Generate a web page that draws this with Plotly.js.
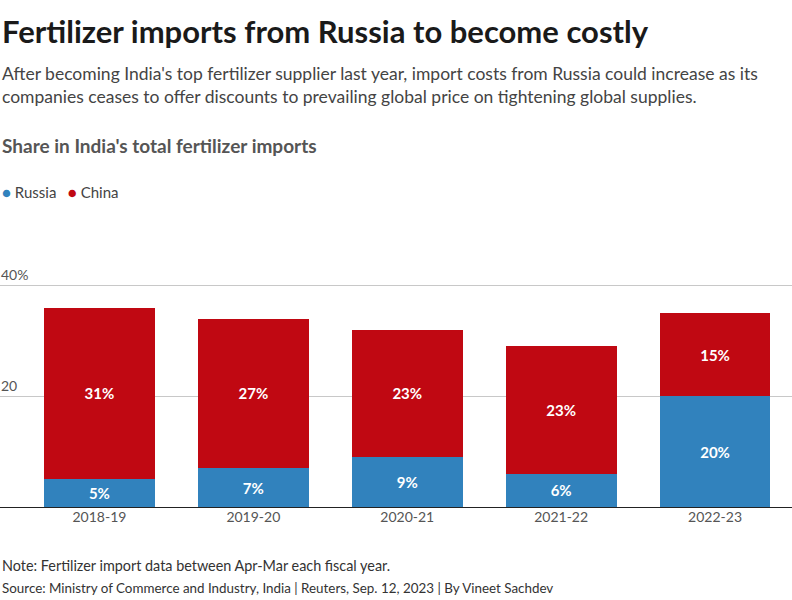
<!DOCTYPE html>
<html>
<head>
<meta charset="utf-8">
<script src="https://cdn.plot.ly/plotly-3.0.1.min.js"></script>
<style>html,body{margin:0;padding:0;background:#fff;}#chart{width:792px;height:600px;}</style>
</head>
<body>
<div id="chart"></div>
<script>
const years = ["2018-19", "2019-20", "2020-21", "2021-22", "2022-23"];
const russia = [5, 7, 9, 6, 20];
const china = [31, 27, 23, 23, 15];
const seriesNames = ["Russia", "China"];
const seriesColors = ["#3182bd", "#c00812"];
const yTickVals = [0, 20, 40];
const yTickText = ["", "20", "40%"];

const FONT = "Lato, 'Source Sans Pro', 'Noto Sans', sans-serif";
const plotTop = 230, plotBottom = 507, H = plotBottom - plotTop;
const py = p => (plotBottom - p) / H;

const traces = [
  {type: "bar", x: years, y: russia, name: seriesNames[0], marker: {color: seriesColors[0]},
   text: russia.map(v => v + "%"), textposition: "inside", insidetextanchor: "middle",
   textfont: {color: "#fff", size: 15, family: FONT, weight: 700}, showlegend: false, hoverinfo: "skip", cliponaxis: false},
  {type: "bar", x: years, y: china, name: seriesNames[1], marker: {color: seriesColors[1]},
   text: china.map(v => v + "%"), textposition: "inside", insidetextanchor: "middle",
   textfont: {color: "#fff", size: 15, family: FONT, weight: 700}, showlegend: false, hoverinfo: "skip", cliponaxis: false}
];

const legendText = seriesNames.map((n, i) => `<span style="color:${seriesColors[i]}">●</span> ${n}`).join("   ");

const layout = {
  width: 792, height: 600,
  margin: {l: 0, r: 0, t: plotTop, b: 600 - plotBottom},
  paper_bgcolor: "#fff", plot_bgcolor: "#fff",
  barmode: "stack", bargap: 0.28,
  font: {family: FONT, color: "#444"},
  xaxis: {type: "category", range: [-0.646, 4.5], showgrid: false, showline: false, zeroline: false,
          ticks: "", tickfont: {size: 14, color: "#555", family: FONT}, fixedrange: true},
  yaxis: {range: [0, 50], tickvals: yTickVals, ticktext: yTickText, showgrid: true, gridcolor: "#c8c8c8", gridwidth: 1,
          zeroline: true, zerolinecolor: "#222", zerolinewidth: 1, ticks: "",
          ticklabelposition: "inside", ticklabelshift: -10, ticklabelstandoff: -2,
          tickfont: {size: 14, color: "#555", family: FONT}, fixedrange: true},
  annotations: [
    {text: "<b>Fertilizer imports from Russia to become costly</b>", xref: "paper", yref: "paper", x: 0, y: py(31),
     xanchor: "left", yanchor: "middle", showarrow: false, font: {size: 31, color: "#1a1a1a", family: FONT}},
    {text: "After becoming India's top fertilizer supplier last year, import costs from Russia could increase as its<br>companies ceases to offer discounts to prevailing global price on tightening global supplies.",
     xref: "paper", yref: "paper", x: 0, y: py(85), xanchor: "left", yanchor: "middle", align: "left", showarrow: false,
     font: {size: 17.5, color: "#444", family: FONT}},
    {text: "<b>Share in India's total fertilizer imports</b>", xref: "paper", yref: "paper", x: 0, y: py(145),
     xanchor: "left", yanchor: "middle", showarrow: false, font: {size: 19, color: "#555", family: FONT}},
    {text: legendText, xref: "paper", yref: "paper", x: 0, y: py(192),
     xanchor: "left", yanchor: "middle", showarrow: false, font: {size: 15, color: "#444", family: FONT}},
    {text: "Note: Fertilizer import data between Apr-Mar each fiscal year.",
     xref: "paper", yref: "paper", x: 0, y: py(565), xanchor: "left", yanchor: "middle", align: "left", showarrow: false,
     font: {size: 14.4, color: "#333", family: FONT}},
    {text: "Source: Ministry of Commerce and Industry, India | Reuters, Sep. 12, 2023 | By Vineet Sachdev",
     xref: "paper", yref: "paper", x: 0, y: py(588), xanchor: "left", yanchor: "middle", align: "left", showarrow: false,
     font: {size: 13.4, color: "#333", family: FONT}}
  ]
};

Plotly.newPlot("chart", traces, layout, {displayModeBar: false, staticPlot: true});
</script>
</body>
</html>
